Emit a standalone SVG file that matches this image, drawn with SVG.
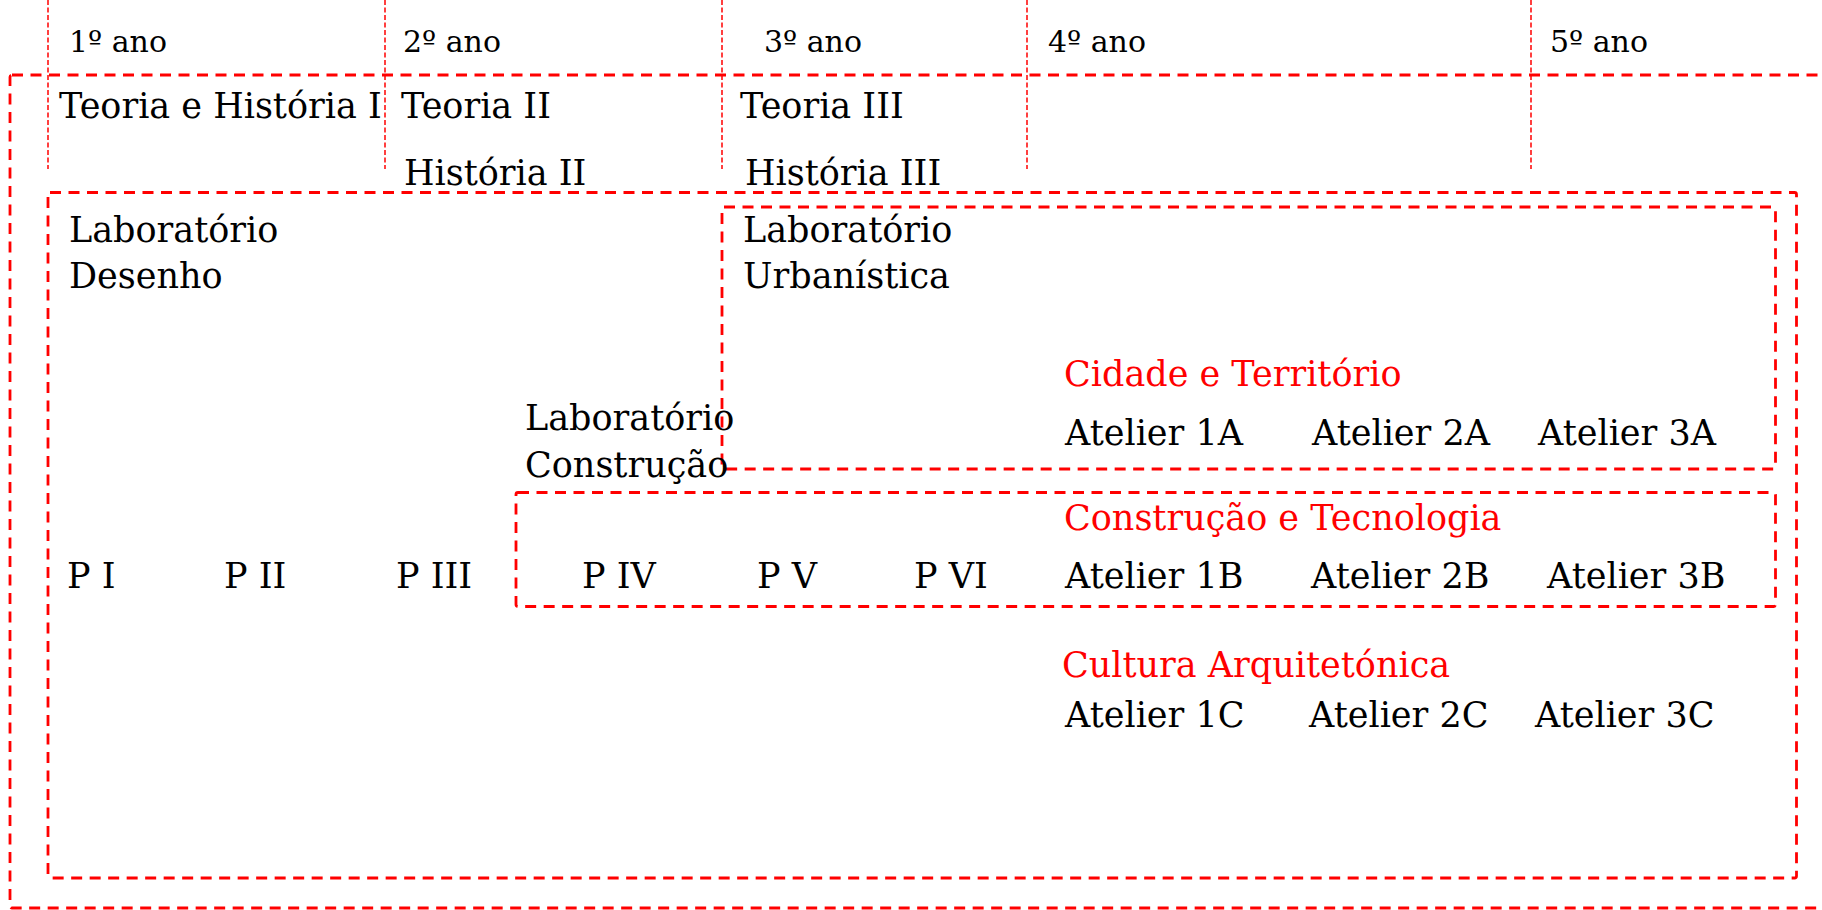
<svg xmlns="http://www.w3.org/2000/svg" width="1822" height="910" viewBox="0 0 1822 910">
<style>
  text { font-family: "DejaVu Serif", Georgia, serif; font-size: 35px; fill: #000; }
  .year { font-size: 30px; }
  .red { fill: #ff0000; }
  .frame { fill: none; stroke: #ff0000; stroke-width: 2.8; stroke-dasharray: 11 7.5; }
  .yline { fill: none; stroke: #ff0000; stroke-width: 1.5; stroke-dasharray: 5 2.5; }
</style>
<rect width="1822" height="910" fill="#ffffff"/>
<g id="connectors">
  <line class="yline" x1="48" y1="0" x2="48" y2="169"/>
  <line class="yline" x1="385" y1="0" x2="385" y2="169"/>
  <line class="yline" x1="722" y1="0" x2="722" y2="169"/>
  <line class="yline" x1="1027" y1="0" x2="1027" y2="169"/>
  <line class="yline" x1="1531" y1="0" x2="1531" y2="169"/>
</g>
<g id="outer-frame"><rect class="frame" x="10" y="75" width="1830" height="833" rx="2"/></g>
<g id="inner-frame"><rect class="frame" x="48" y="192.5" width="1748.5" height="685.5" rx="2"/></g>
<g id="urbanistica-frame"><rect class="frame" x="722" y="207" width="1053.5" height="262" rx="2"/></g>
<g id="construcao-frame"><rect class="frame" x="516" y="492.5" width="1259.5" height="114" rx="2"/></g>
<g id="years">
  <text class="year" x="69" y="52">1º ano</text>
  <text class="year" x="403" y="52">2º ano</text>
  <text class="year" x="764" y="52">3º ano</text>
  <text class="year" x="1048" y="52">4º ano</text>
  <text class="year" x="1550" y="52">5º ano</text>
</g>
<g id="teoria-historia">
  <text x="59" y="118">Teoria e História I</text>
  <text x="401" y="118">Teoria II</text>
  <text x="740" y="118">Teoria III</text>
  <text x="404" y="185">História II</text>
  <text x="745" y="185">História III</text>
</g>
<g id="lab-desenho">
  <text x="69" y="242">Laboratório</text>
  <text x="69" y="288">Desenho</text>
</g>
<g id="lab-urbanistica">
  <text x="743" y="242">Laboratório</text>
  <text x="743" y="288">Urbanística</text>
</g>
<g id="lab-construcao">
  <text x="525" y="430">Laboratório</text>
  <text x="525" y="477">Construção</text>
</g>
<g id="cidade-territorio">
  <text class="red" x="1064" y="386">Cidade e Território</text>
  <text x="1065" y="445">Atelier 1A</text>
  <text x="1312" y="445">Atelier 2A</text>
  <text x="1538" y="445">Atelier 3A</text>
</g>
<g id="construcao-tecnologia">
  <text class="red" x="1064" y="530">Construção e Tecnologia</text>
  <text x="1065" y="588">Atelier 1B</text>
  <text x="1311" y="588">Atelier 2B</text>
  <text x="1547" y="588">Atelier 3B</text>
</g>
<g id="projetos">
  <text x="67" y="588">P I</text>
  <text x="224" y="588">P II</text>
  <text x="396" y="588">P III</text>
  <text x="582" y="588">P IV</text>
  <text x="757" y="588">P V</text>
  <text x="914" y="588">P VI</text>
</g>
<g id="cultura-arquitetonica">
  <text class="red" x="1062" y="677">Cultura Arquitetónica</text>
  <text x="1065" y="727">Atelier 1C</text>
  <text x="1309" y="727">Atelier 2C</text>
  <text x="1535" y="727">Atelier 3C</text>
</g>
</svg>
